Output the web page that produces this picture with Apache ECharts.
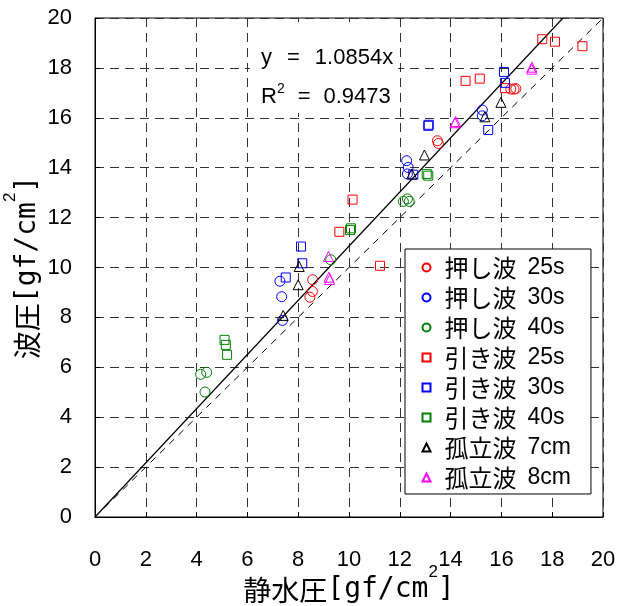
<!DOCTYPE html>
<html>
<head>
<meta charset="utf-8">
<script src="https://cdn.jsdelivr.net/npm/echarts@6/dist/echarts.min.js"></script>
<style>
  html, body { margin: 0; padding: 0; background: #fff; }
  #chart { width: 617px; height: 606px; }
</style>
</head>
<body>
<div id="chart"></div>
<script>
// Axis range (static water pressure vs. wave pressure, gf/cm^2)
const axisMin = 0;
const axisMax = 20;
const axisStep = 2;

// Regression through origin and reference line y = x
const fitSlope = 1.0854;
const fitR2 = 0.9473;
const refSlope = 1.0;

// Measured points [static pressure, wave pressure]
const push25s = [[8.57, 9.51], [8.56, 9.04], [8.46, 8.81], [13.48, 15.08], [13.52, 14.97],
                 [16.37, 17.15], [16.50, 17.15], [16.57, 17.17]];
const push30s = [[7.28, 9.45], [7.35, 8.83], [7.38, 7.88], [12.27, 14.28], [12.33, 14.01],
                 [12.30, 13.75], [15.25, 16.31], [15.25, 16.08]];
const push40s = [[4.16, 5.72], [4.40, 5.80], [4.33, 5.01], [9.28, 10.31],
                 [12.14, 12.65], [12.30, 12.75], [12.37, 12.65]];
const pull25s = [[9.62, 11.43], [10.14, 12.72], [11.22, 10.07], [14.59, 17.48], [15.15, 17.57],
                 [16.14, 17.19], [17.61, 19.15], [18.11, 19.05], [19.19, 18.87]];
const pull30s = [[7.51, 9.60], [8.11, 10.84], [8.16, 10.17], [12.53, 13.72], [13.12, 15.68],
                 [13.14, 15.72], [15.48, 15.51], [16.10, 17.84], [16.14, 17.40]];
const pull40s = [[5.10, 7.10], [5.15, 6.90], [5.20, 6.50], [10.04, 11.50], [10.08, 11.57],
                 [13.06, 13.75], [13.12, 13.68]];
const solitary7cm = [[7.41, 8.08], [8.00, 9.31], [8.04, 10.04], [12.47, 13.75], [12.97, 14.51],
                     [15.35, 16.04], [15.98, 16.62]];
const solitary8cm = [[9.19, 10.44], [9.21, 9.61], [9.24, 9.52], [14.17, 15.80], [14.20, 15.85],
                     [17.19, 17.95], [17.20, 18.03]];

const seriesNames = ['押し波 25s', '押し波 30s', '押し波 40s', '引き波 25s',
                     '引き波 30s', '引き波 40s', '孤立波 7cm', '孤立波 8cm'];
const seriesData = [push25s, push30s, push40s, pull25s, pull30s, pull40s, solitary7cm, solitary8cm];
const seriesSymbols = ['circle', 'circle', 'circle', 'rect', 'rect', 'rect', 'triangle', 'triangle'];
const seriesColors = ['#ff0000', '#0000ff', '#008000', '#ff0000', '#0000ff', '#008000', '#000000', '#ff00ff'];

const LATIN = "'Liberation Sans', Arial, sans-serif";
const CJK = "'Noto Sans CJK JP', sans-serif";
const MONO = "'DejaVu Sans Mono', monospace";
const symbolSizes = { circle: 10, rect: 9, triangle: 10 };

const scatterSeries = seriesNames.map((name, i) => ({
  name: name,
  type: 'scatter',
  data: seriesData[i],
  symbol: seriesSymbols[i],
  symbolSize: symbolSizes[seriesSymbols[i]],
  itemStyle: { color: 'none', borderColor: seriesColors[i], borderWidth: 1, opacity: 1 },
  emphasis: { disabled: true },
  z: 5
}));

// Line endpoints from slopes, clipped to the axis box
function lineThroughOrigin(slope) {
  const xEnd = Math.min(axisMax, axisMax / slope);
  return [[axisMin, axisMin * slope], [xEnd, xEnd * slope]];
}

// Axis titles: full-width kanji, half-width unit text, raised exponent
function unitTitle(kanji) {
  return '{c|' + kanji + '}{l|[gf/cm}{s|2}{l|]}';
}
const axisNameRich = {
  c: { fontSize: 28, fontFamily: CJK, color: '#000', lineHeight: 52 },
  l: { fontSize: 28, fontFamily: MONO, color: '#000', lineHeight: 52 },
  s: { fontSize: 17, fontFamily: LATIN, color: '#000', lineHeight: 17, verticalAlign: 'top' }
};

// Legend labels: kanji part and wave period / height part
function legendLabel(name) {
  const parts = name.split(' ');
  return '{g| }{c|' + parts[0] + '}{sp| }{d|' + parts[1] + '}';
}

const gridDash = { color: '#333', width: 1, type: [9, 6] };

const chart = echarts.init(document.getElementById('chart'), null, { renderer: 'canvas' });

chart.setOption({
  animation: false,
  backgroundColor: '#fff',
  grid: {
    left: 95, right: 14, top: 18, bottom: 89,
    containLabel: false, outerBoundsMode: 'none',
    show: true, borderColor: '#000', borderWidth: 1, backgroundColor: 'transparent'
  },
  xAxis: {
    type: 'value', min: axisMin, max: axisMax, interval: axisStep,
    name: unitTitle('静水圧'),
    nameLocation: 'middle', nameGap: 47, nameMoveOverlap: false,
    nameTextStyle: { rich: axisNameRich },
    axisLine: { lineStyle: { color: '#000', width: 1 } },
    axisTick: { show: true, inside: true, length: 5, lineStyle: { color: '#000' } },
    axisLabel: { color: '#000', fontSize: 22, fontFamily: LATIN, margin: 32 },
    splitLine: { show: true, lineStyle: gridDash }
  },
  yAxis: {
    type: 'value', min: axisMin, max: axisMax, interval: axisStep,
    name: unitTitle('波圧'),
    nameLocation: 'middle', nameGap: 41.5, nameRotate: 90, nameMoveOverlap: false,
    nameTextStyle: { rich: axisNameRich },
    axisLine: { lineStyle: { color: '#000', width: 1 } },
    axisTick: { show: true, inside: true, length: 5, lineStyle: { color: '#000' } },
    axisLabel: { color: '#000', fontSize: 22, fontFamily: LATIN, margin: 23 },
    splitLine: { show: true, lineStyle: gridDash }
  },
  legend: {
    data: seriesNames,
    orient: 'vertical',
    left: 405, top: 249,
    padding: [6.5, 20, 4.5, 15],
    itemWidth: 8, itemHeight: 8, itemGap: 6,
    backgroundColor: '#fff',
    borderColor: '#000', borderWidth: 1,
    formatter: legendLabel,
    textStyle: {
      color: '#000',
      rich: {
        g: { width: 9, fontSize: 23, lineHeight: 25 },
        c: { fontSize: 24, fontFamily: CJK, color: '#000', lineHeight: 25 },
        sp: { width: 11, fontSize: 23, lineHeight: 25 },
        d: { fontSize: 23, fontFamily: LATIN, color: '#000', lineHeight: 25 }
      }
    },
    selectedMode: false
  },
  graphic: [
    { type: 'rect', left: 250, top: 22, shape: { width: 148, height: 91 }, style: { fill: '#fff' }, z: 3 },
    { type: 'text', left: 261, top: 47, z: 4,
      style: {
        text: '{t|y}{sp| }{t|=}{sp| }{t|' + fitSlope.toFixed(4) + 'x}',
        rich: {
          t: { fontSize: 22, fontFamily: LATIN, fill: '#000', lineHeight: 26 },
          sp: { width: 15, fontSize: 22, lineHeight: 26 }
        }
      } },
    { type: 'text', left: 261, top: 82, z: 4,
      style: {
        text: '{t|R}{s|2}{sp| }{t|=}{sp| }{t|' + fitR2.toFixed(4) + '}',
        rich: {
          t: { fontSize: 22, fontFamily: LATIN, fill: '#000', lineHeight: 30 },
          s: { fontSize: 14, fontFamily: LATIN, fill: '#000', lineHeight: 14, verticalAlign: 'top' },
          sp: { width: 13, fontSize: 22, lineHeight: 30 }
        }
      } }
  ],
  series: [
    {
      type: 'line', data: lineThroughOrigin(refSlope), symbol: 'none', silent: true,
      lineStyle: { color: '#000', width: 1, type: [7, 6] }, z: 4
    },
    {
      type: 'line', data: lineThroughOrigin(fitSlope), symbol: 'none', silent: true,
      lineStyle: { color: '#000', width: 1.2, type: 'solid' }, z: 4
    }
  ].concat(scatterSeries)
});
</script>
</body>
</html>
